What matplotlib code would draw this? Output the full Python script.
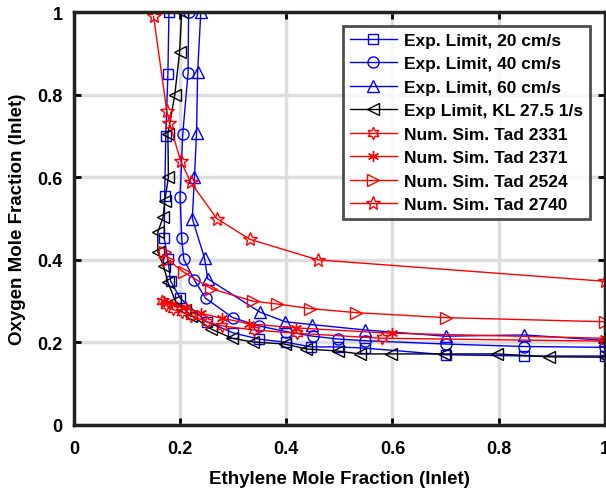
import matplotlib
matplotlib.use("Agg")
import matplotlib.pyplot as plt

plt.rcParams['font.family'] = ['Liberation Sans', 'DejaVu Sans']
plt.rcParams['font.weight'] = 'bold'

# Exp. Limit, 20 cm/s
x20 = [0.179, 0.177, 0.173, 0.171, 0.170, 0.177, 0.182, 0.200, 0.250, 0.300, 0.348, 0.400, 0.447, 0.498, 0.549, 0.700, 0.848, 1.000]
y20 = [1.000, 0.850, 0.700, 0.555, 0.453, 0.402, 0.349, 0.307, 0.250, 0.223, 0.208, 0.200, 0.189, 0.189, 0.186, 0.170, 0.167, 0.167]
# Exp. Limit, 40 cm/s
x40 = [0.216, 0.215, 0.205, 0.200, 0.203, 0.207, 0.227, 0.248, 0.299, 0.348, 0.400, 0.450, 0.498, 0.549, 0.700, 0.848, 1.000]
y40 = [1.000, 0.853, 0.705, 0.553, 0.453, 0.401, 0.351, 0.307, 0.260, 0.240, 0.226, 0.215, 0.208, 0.204, 0.196, 0.190, 0.188]
# Exp. Limit, 60 cm/s
x60 = [0.239, 0.233, 0.231, 0.227, 0.223, 0.246, 0.252, 0.351, 0.398, 0.449, 0.549, 0.700, 0.848, 1.000]
y60 = [1.000, 0.855, 0.708, 0.600, 0.500, 0.404, 0.354, 0.273, 0.250, 0.243, 0.230, 0.215, 0.218, 0.205]
# Exp Limit, KL 27.5 1/s
xkl = [0.203, 0.199, 0.190, 0.177, 0.178, 0.171, 0.168, 0.158, 0.158, 0.169, 0.177, 0.191, 0.210, 0.221, 0.259, 0.298, 0.337, 0.397, 0.438, 0.497, 0.538, 0.597, 0.697, 0.797, 0.895, 1.000]
ykl = [1.000, 0.903, 0.800, 0.705, 0.600, 0.542, 0.503, 0.467, 0.420, 0.384, 0.346, 0.300, 0.278, 0.265, 0.232, 0.210, 0.201, 0.196, 0.184, 0.179, 0.172, 0.172, 0.172, 0.172, 0.165, 0.164]
# Num. Sim. Tad 2331
x2331 = [0.165, 0.174, 0.186, 0.203, 0.221, 0.250, 0.278, 0.340, 0.420, 0.580, 1.000]
y2331 = [0.300, 0.290, 0.280, 0.273, 0.265, 0.250, 0.240, 0.230, 0.222, 0.210, 0.203]
# Num. Sim. Tad 2371
x2371 = [0.170, 0.185, 0.212, 0.240, 0.278, 0.330, 0.419, 0.600, 1.000]
y2371 = [0.300, 0.292, 0.285, 0.270, 0.259, 0.245, 0.235, 0.222, 0.210]
# Num. Sim. Tad 2524
x2524 = [0.172, 0.177, 0.207, 0.259, 0.337, 0.383, 0.444, 0.532, 0.700, 1.000]
y2524 = [0.420, 0.400, 0.370, 0.330, 0.300, 0.293, 0.282, 0.272, 0.260, 0.250]
# Num. Sim. Tad 2740
x2740 = [0.150, 0.175, 0.180, 0.201, 0.220, 0.269, 0.331, 0.459, 1.000]
y2740 = [0.990, 0.760, 0.731, 0.640, 0.588, 0.500, 0.450, 0.400, 0.348]

fig = plt.figure(figsize=(6.06, 4.89), dpi=100)
ax = fig.add_axes([0.122, 0.129, 0.876, 0.844])

kw = dict(linewidth=1.0, markerfacecolor='none', markeredgewidth=1.0)
ax.plot(x20, y20, 's-', color='blue', markersize=7, label='Exp. Limit, 20 cm/s', **kw)
ax.plot(x40, y40, 'o-', color='blue', markersize=8, label='Exp. Limit, 40 cm/s', **kw)
ax.plot(x60, y60, '^-', color='blue', markersize=9, label='Exp. Limit, 60 cm/s', **kw)
ax.plot(xkl, ykl, '<-', color='black', markersize=9, label='Exp Limit, KL 27.5 1/s', **kw)
ax.plot(x2331, y2331, linestyle='-', marker=(6, 1, 0), color='red', markersize=9, label='Num. Sim. Tad 2331', **kw)
ax.plot(x2371, y2371, linestyle='-', marker=(6, 2, 0), color='red', markersize=8, label='Num. Sim. Tad 2371', **kw)
ax.plot(x2524, y2524, '>-', color='red', markersize=9, label='Num. Sim. Tad 2524', **kw)
ax.plot(x2740, y2740, '*-', color='red', markersize=10, label='Num. Sim. Tad 2740', **kw)

ax.set_xlim(0, 1)
ax.set_ylim(0, 1)
ticks = [0, 0.2, 0.4, 0.6, 0.8, 1]
ax.set_xticks(ticks)
ax.set_yticks(ticks)
ax.set_xticklabels(['0', '0.2', '0.4', '0.6', '0.8', '1'])
ax.set_yticklabels(['0', '0.2', '0.4', '0.6', '0.8', '1'])
ax.tick_params(axis='x', pad=11)
ax.tick_params(direction='in', length=5, width=2, labelsize=13, top=True, right=True)
ax.tick_params(axis='y', pad=8)
for lab in ax.get_xticklabels() + ax.get_yticklabels():
    lab.set_fontweight('bold')
ax.grid(True, color='#dedede', linewidth=2.5)
ax.set_axisbelow(True)
for s in ax.spines.values():
    s.set_linewidth(2.5)
    s.set_color('#222222')

ax.set_xlabel('Ethylene Mole Fraction (Inlet)', fontsize=13.5, fontweight='bold', labelpad=9)
ax.set_ylabel('Oxygen Mole Fraction (Inlet)', fontsize=13.5, fontweight='bold', labelpad=8)

leg = ax.legend(loc='upper right', bbox_to_anchor=(0.972, 0.967), fontsize=12.5,
                frameon=True, fancybox=False, handlelength=2.7, borderpad=0.4,
                labelspacing=0.48, handletextpad=0.4, borderaxespad=0)
leg.get_frame().set_edgecolor('#222222')
leg.get_frame().set_linewidth(2)
for t in leg.get_texts():
    t.set_fontweight('bold')

fig.savefig('out.png', dpi=100)
